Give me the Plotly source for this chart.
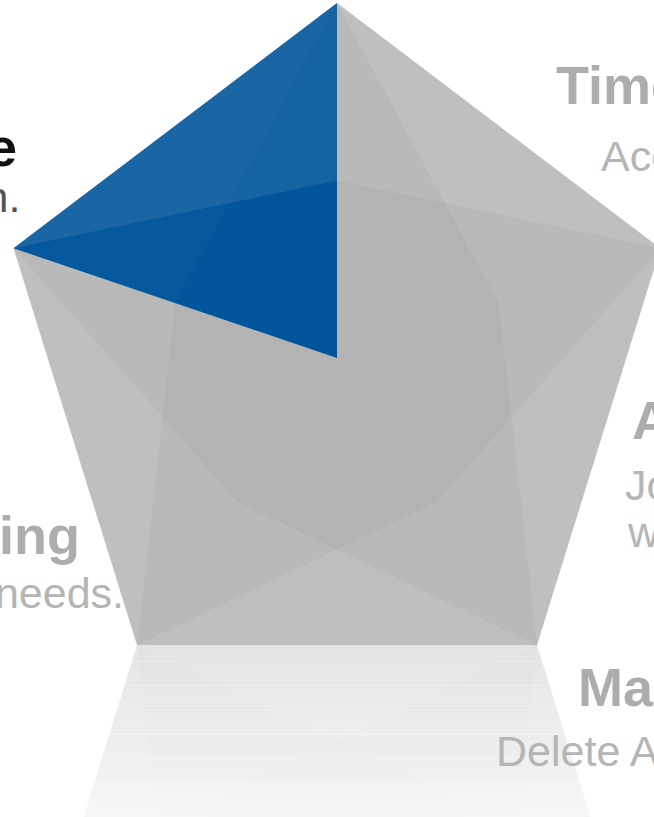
import numpy as np
import plotly.graph_objects as go

# ---------------- data ----------------
# segments clockwise from the top vertex: top-right, right, bottom, left, top-left
titles = ["Timely", "Accountability", "Manage", "Profiling", "Choice"]
subtitles = [
    ["Access your data at any time."],
    ["Join our community", "with confidence."],
    ["Delete Account anytime."],
    ["Tailored to your needs."],
    ["Protect your information."],
]
highlight = 4  # top-left segment is the active one

# ---------------- styling / layout ----------------
W, H = 654, 817
cx, cy, R, sx = 337.0, 358.0, 355.0, 0.958
BASE_GRAY = "#b3b3b3"
BLUE = "#00559b"
FACET = "rgba(255,255,255,0.085)"
FACET_HI = ["rgba(255,255,255,0.02)", "rgba(255,255,255,0.085)"]
FONT = "Liberation Sans, Arial, sans-serif"
T_SIZE, S_SIZE = 54, 43
T_GRAY, S_GRAY = "#adadad", "#b5b5b5"
ACT_T, ACT_S = "#111111", "#555555"

# label placement: (x, baseline) for title, then per subtitle line
label_layout = [
    dict(t=(555, 103), s=[(600, 171)], a="left"),
    dict(t=(631, 438), s=[(624, 500), (626, 547)], a="left"),
    dict(t=(577, 705), s=[(495, 766)], a="left"),
    dict(t=(81, 553), s=[(125, 608)], a="right"),
    dict(t=(18, 165), s=[(21, 212)], a="right"),
]

ang = np.deg2rad(90 - 72 * np.arange(5))
VX = cx + sx * R * np.cos(ang)
VY = cy - R * np.sin(ang)
MX = (cx + VX) / 2
MY = (cy + VY) / 2
floor_y = VY[2]

fig = go.Figure()


def poly(xs, ys, color, mirror=False):
    ys = np.asarray(ys, dtype=float)
    if mirror:
        ys = 2 * floor_y - ys
    xs = list(xs) + [xs[0]]
    ys = list(ys) + [ys[0]]
    fig.add_trace(go.Scatter(x=xs, y=ys, mode="lines", fill="toself",
                             fillcolor=color, line=dict(width=0, color=color),
                             hoverinfo="skip", showlegend=False))


def draw_pentagon(mirror):
    n = len(titles)
    poly(VX, VY, BASE_GRAY, mirror)
    j = (highlight + 1) % n
    poly([cx, VX[highlight], VX[j]], [cy, VY[highlight], VY[j]], BLUE, mirror)
    for k in range(n):
        j = (k + 1) % n
        c1, c2 = (FACET_HI if k == highlight else (FACET, FACET))
        poly([VX[k], VX[j], MX[k]], [VY[k], VY[j], MY[k]], c1, mirror)
        poly([VX[k], VX[j], MX[j]], [VY[k], VY[j], MY[j]], c2, mirror)


draw_pentagon(True)    # reflection
draw_pentagon(False)   # main pentagon

# fading of the reflection
shapes = []
N = 44
edges = np.linspace(floor_y, H + 6, N + 1)
for i in range(N):
    a = 0.58 + (0.87 - 0.58) * i / (N - 1)
    shapes.append(dict(type="rect", xref="x", yref="y", x0=-5, x1=W + 5,
                       y0=edges[i], y1=edges[i + 1] + 0.3, layer="above",
                       fillcolor=f"rgba(255,255,255,{a:.3f})", line=dict(width=0)))

annotations = []
for k, lay in enumerate(label_layout):
    active = (k == highlight)
    tx, tb = lay["t"]
    annotations.append(dict(x=tx, y=tb - 0.34 * T_SIZE, xref="x", yref="y",
                            text=f"<b>{titles[k]}</b>", showarrow=False,
                            xanchor=lay["a"], yanchor="middle", borderpad=0,
                            font=dict(family=FONT, size=T_SIZE,
                                      color=ACT_T if active else T_GRAY)))
    for line, (lx, lb) in zip(subtitles[k], lay["s"]):
        annotations.append(dict(x=lx, y=lb - 0.34 * S_SIZE, xref="x", yref="y",
                                text=line, showarrow=False,
                                xanchor=lay["a"], yanchor="middle", borderpad=0,
                                font=dict(family=FONT, size=S_SIZE,
                                          color=ACT_S if active else S_GRAY)))

fig.update_layout(
    width=W, height=H, margin=dict(l=0, r=0, t=0, b=0),
    paper_bgcolor="white", plot_bgcolor="white",
    xaxis=dict(range=[0, W], visible=False, fixedrange=True),
    yaxis=dict(range=[H, 0], visible=False, fixedrange=True),
    shapes=shapes, annotations=annotations, showlegend=False,
)

fig.write_html("out.html")
